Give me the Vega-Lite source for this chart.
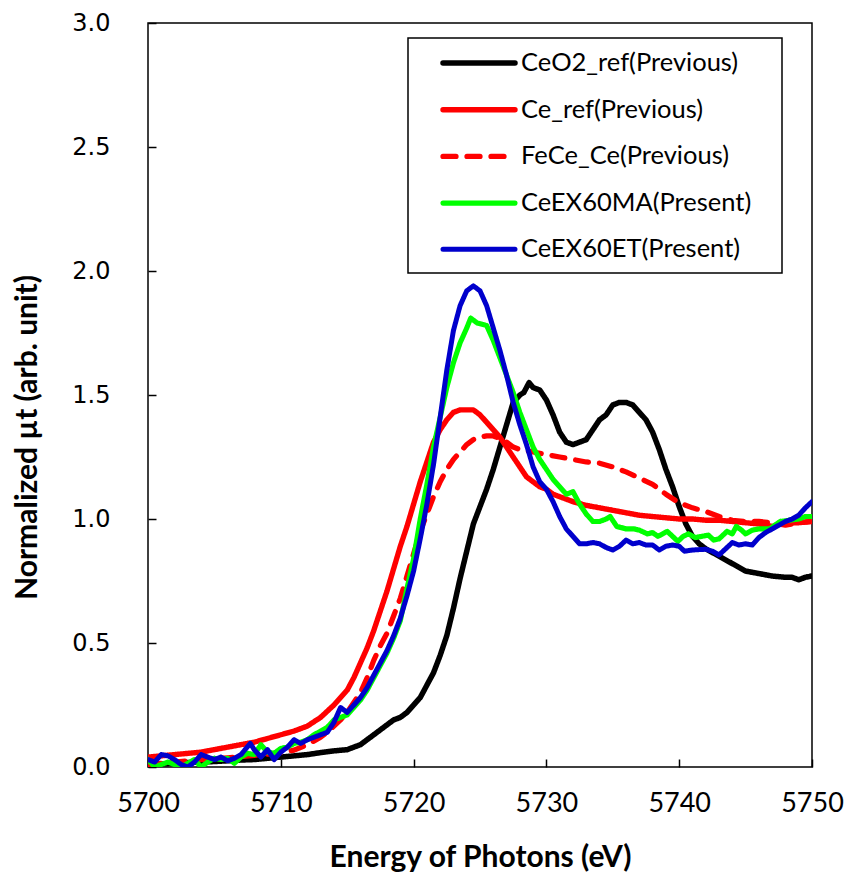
{
  "$schema": "https://vega.github.io/schema/vega-lite/v6.json",
  "autosize": "none",
  "width": 664,
  "height": 744,
  "padding": {"left": 148, "top": 23, "right": 36, "bottom": 109},
  "background": "white",
  "config": {
    "view": {"stroke": "black", "strokeWidth": 1.5},
    "axis": {"grid": false, "domain": false, "ticks": true, "tickColor": "black", "tickWidth": 1.5, "labelColor": "black", "titleColor": "black", "zindex": 1}
  },
  "datasets": {
    "d": [
      {"s":"CeO2_ref(Previous)","x":5700,"y":0.01},{"s":"CeO2_ref(Previous)","x":5701,"y":0.012},{"s":"CeO2_ref(Previous)","x":5702,"y":0.015},{"s":"CeO2_ref(Previous)","x":5703,"y":0.018},{"s":"CeO2_ref(Previous)","x":5704,"y":0.02},{"s":"CeO2_ref(Previous)","x":5705,"y":0.022},{"s":"CeO2_ref(Previous)","x":5706,"y":0.025},{"s":"CeO2_ref(Previous)","x":5707,"y":0.028},{"s":"CeO2_ref(Previous)","x":5708,"y":0.03},{"s":"CeO2_ref(Previous)","x":5709,"y":0.035},{"s":"CeO2_ref(Previous)","x":5710,"y":0.04},{"s":"CeO2_ref(Previous)","x":5711,"y":0.045},{"s":"CeO2_ref(Previous)","x":5712,"y":0.05},{"s":"CeO2_ref(Previous)","x":5713,"y":0.058},{"s":"CeO2_ref(Previous)","x":5714,"y":0.065},{"s":"CeO2_ref(Previous)","x":5715,"y":0.07},{"s":"CeO2_ref(Previous)","x":5716,"y":0.09},{"s":"CeO2_ref(Previous)","x":5717,"y":0.13},{"s":"CeO2_ref(Previous)","x":5718,"y":0.17},{"s":"CeO2_ref(Previous)","x":5718.5,"y":0.19},{"s":"CeO2_ref(Previous)","x":5719,"y":0.2},{"s":"CeO2_ref(Previous)","x":5719.5,"y":0.22},{"s":"CeO2_ref(Previous)","x":5720,"y":0.25},{"s":"CeO2_ref(Previous)","x":5720.5,"y":0.28},{"s":"CeO2_ref(Previous)","x":5721,"y":0.33},{"s":"CeO2_ref(Previous)","x":5721.5,"y":0.38},{"s":"CeO2_ref(Previous)","x":5722,"y":0.45},{"s":"CeO2_ref(Previous)","x":5722.5,"y":0.53},{"s":"CeO2_ref(Previous)","x":5723,"y":0.64},{"s":"CeO2_ref(Previous)","x":5723.5,"y":0.76},{"s":"CeO2_ref(Previous)","x":5724,"y":0.87},{"s":"CeO2_ref(Previous)","x":5724.5,"y":0.98},{"s":"CeO2_ref(Previous)","x":5725,"y":1.05},{"s":"CeO2_ref(Previous)","x":5725.5,"y":1.12},{"s":"CeO2_ref(Previous)","x":5726,"y":1.2},{"s":"CeO2_ref(Previous)","x":5726.5,"y":1.29},{"s":"CeO2_ref(Previous)","x":5727,"y":1.38},{"s":"CeO2_ref(Previous)","x":5727.5,"y":1.47},{"s":"CeO2_ref(Previous)","x":5728,"y":1.5},{"s":"CeO2_ref(Previous)","x":5728.3,"y":1.51},{"s":"CeO2_ref(Previous)","x":5728.7,"y":1.55},{"s":"CeO2_ref(Previous)","x":5729,"y":1.53},{"s":"CeO2_ref(Previous)","x":5729.5,"y":1.52},{"s":"CeO2_ref(Previous)","x":5730,"y":1.48},{"s":"CeO2_ref(Previous)","x":5730.5,"y":1.42},{"s":"CeO2_ref(Previous)","x":5731,"y":1.35},{"s":"CeO2_ref(Previous)","x":5731.5,"y":1.31},{"s":"CeO2_ref(Previous)","x":5732,"y":1.3},{"s":"CeO2_ref(Previous)","x":5732.5,"y":1.31},{"s":"CeO2_ref(Previous)","x":5733,"y":1.32},{"s":"CeO2_ref(Previous)","x":5733.5,"y":1.36},{"s":"CeO2_ref(Previous)","x":5734,"y":1.4},{"s":"CeO2_ref(Previous)","x":5734.5,"y":1.42},{"s":"CeO2_ref(Previous)","x":5735,"y":1.46},{"s":"CeO2_ref(Previous)","x":5735.5,"y":1.47},{"s":"CeO2_ref(Previous)","x":5736,"y":1.47},{"s":"CeO2_ref(Previous)","x":5736.5,"y":1.46},{"s":"CeO2_ref(Previous)","x":5737,"y":1.43},{"s":"CeO2_ref(Previous)","x":5737.5,"y":1.4},{"s":"CeO2_ref(Previous)","x":5738,"y":1.35},{"s":"CeO2_ref(Previous)","x":5738.5,"y":1.28},{"s":"CeO2_ref(Previous)","x":5739,"y":1.2},{"s":"CeO2_ref(Previous)","x":5739.5,"y":1.13},{"s":"CeO2_ref(Previous)","x":5740,"y":1.05},{"s":"CeO2_ref(Previous)","x":5740.5,"y":0.98},{"s":"CeO2_ref(Previous)","x":5741,"y":0.93},{"s":"CeO2_ref(Previous)","x":5741.5,"y":0.9},{"s":"CeO2_ref(Previous)","x":5742,"y":0.88},{"s":"CeO2_ref(Previous)","x":5743,"y":0.85},{"s":"CeO2_ref(Previous)","x":5744,"y":0.82},{"s":"CeO2_ref(Previous)","x":5745,"y":0.79},{"s":"CeO2_ref(Previous)","x":5746,"y":0.78},{"s":"CeO2_ref(Previous)","x":5747,"y":0.77},{"s":"CeO2_ref(Previous)","x":5748,"y":0.765},{"s":"CeO2_ref(Previous)","x":5748.5,"y":0.765},{"s":"CeO2_ref(Previous)","x":5749,"y":0.755},{"s":"CeO2_ref(Previous)","x":5749.5,"y":0.765},{"s":"CeO2_ref(Previous)","x":5750,"y":0.77},

      {"s":"Ce_ref(Previous)","x":5700,"y":0.04},{"s":"Ce_ref(Previous)","x":5701,"y":0.045},{"s":"Ce_ref(Previous)","x":5702,"y":0.05},{"s":"Ce_ref(Previous)","x":5703,"y":0.055},{"s":"Ce_ref(Previous)","x":5704,"y":0.06},{"s":"Ce_ref(Previous)","x":5705,"y":0.07},{"s":"Ce_ref(Previous)","x":5706,"y":0.08},{"s":"Ce_ref(Previous)","x":5707,"y":0.09},{"s":"Ce_ref(Previous)","x":5708,"y":0.1},{"s":"Ce_ref(Previous)","x":5709,"y":0.115},{"s":"Ce_ref(Previous)","x":5710,"y":0.13},{"s":"Ce_ref(Previous)","x":5711,"y":0.145},{"s":"Ce_ref(Previous)","x":5712,"y":0.165},{"s":"Ce_ref(Previous)","x":5713,"y":0.2},{"s":"Ce_ref(Previous)","x":5714,"y":0.25},{"s":"Ce_ref(Previous)","x":5715,"y":0.31},{"s":"Ce_ref(Previous)","x":5715.5,"y":0.36},{"s":"Ce_ref(Previous)","x":5716,"y":0.42},{"s":"Ce_ref(Previous)","x":5716.5,"y":0.48},{"s":"Ce_ref(Previous)","x":5717,"y":0.55},{"s":"Ce_ref(Previous)","x":5717.5,"y":0.63},{"s":"Ce_ref(Previous)","x":5718,"y":0.71},{"s":"Ce_ref(Previous)","x":5718.5,"y":0.8},{"s":"Ce_ref(Previous)","x":5719,"y":0.89},{"s":"Ce_ref(Previous)","x":5719.5,"y":0.97},{"s":"Ce_ref(Previous)","x":5720,"y":1.06},{"s":"Ce_ref(Previous)","x":5720.5,"y":1.15},{"s":"Ce_ref(Previous)","x":5721,"y":1.23},{"s":"Ce_ref(Previous)","x":5721.5,"y":1.31},{"s":"Ce_ref(Previous)","x":5722,"y":1.36},{"s":"Ce_ref(Previous)","x":5722.5,"y":1.4},{"s":"Ce_ref(Previous)","x":5723,"y":1.43},{"s":"Ce_ref(Previous)","x":5723.5,"y":1.44},{"s":"Ce_ref(Previous)","x":5724,"y":1.44},{"s":"Ce_ref(Previous)","x":5724.5,"y":1.44},{"s":"Ce_ref(Previous)","x":5725,"y":1.42},{"s":"Ce_ref(Previous)","x":5725.5,"y":1.39},{"s":"Ce_ref(Previous)","x":5726,"y":1.36},{"s":"Ce_ref(Previous)","x":5726.5,"y":1.33},{"s":"Ce_ref(Previous)","x":5727,"y":1.29},{"s":"Ce_ref(Previous)","x":5727.5,"y":1.25},{"s":"Ce_ref(Previous)","x":5728,"y":1.21},{"s":"Ce_ref(Previous)","x":5728.5,"y":1.17},{"s":"Ce_ref(Previous)","x":5729,"y":1.15},{"s":"Ce_ref(Previous)","x":5729.5,"y":1.13},{"s":"Ce_ref(Previous)","x":5730,"y":1.12},{"s":"Ce_ref(Previous)","x":5730.5,"y":1.1},{"s":"Ce_ref(Previous)","x":5731,"y":1.09},{"s":"Ce_ref(Previous)","x":5732,"y":1.07},{"s":"Ce_ref(Previous)","x":5733,"y":1.055},{"s":"Ce_ref(Previous)","x":5734,"y":1.045},{"s":"Ce_ref(Previous)","x":5735,"y":1.035},{"s":"Ce_ref(Previous)","x":5736,"y":1.025},{"s":"Ce_ref(Previous)","x":5737,"y":1.015},{"s":"Ce_ref(Previous)","x":5738,"y":1.01},{"s":"Ce_ref(Previous)","x":5739,"y":1.005},{"s":"Ce_ref(Previous)","x":5740,"y":1.0},{"s":"Ce_ref(Previous)","x":5741,"y":1.0},{"s":"Ce_ref(Previous)","x":5742,"y":0.995},{"s":"Ce_ref(Previous)","x":5743,"y":0.995},{"s":"Ce_ref(Previous)","x":5744,"y":0.99},{"s":"Ce_ref(Previous)","x":5745,"y":0.985},{"s":"Ce_ref(Previous)","x":5746,"y":0.98},{"s":"Ce_ref(Previous)","x":5747,"y":0.97},{"s":"Ce_ref(Previous)","x":5748,"y":0.985},{"s":"Ce_ref(Previous)","x":5749,"y":0.985},{"s":"Ce_ref(Previous)","x":5750,"y":0.99},

      {"s":"FeCe_Ce(Previous)","x":5700,"y":0.01},{"s":"FeCe_Ce(Previous)","x":5701,"y":0.015},{"s":"FeCe_Ce(Previous)","x":5702,"y":0.02},{"s":"FeCe_Ce(Previous)","x":5703,"y":0.025},{"s":"FeCe_Ce(Previous)","x":5704,"y":0.03},{"s":"FeCe_Ce(Previous)","x":5705,"y":0.033},{"s":"FeCe_Ce(Previous)","x":5706,"y":0.037},{"s":"FeCe_Ce(Previous)","x":5707,"y":0.042},{"s":"FeCe_Ce(Previous)","x":5708,"y":0.047},{"s":"FeCe_Ce(Previous)","x":5709,"y":0.052},{"s":"FeCe_Ce(Previous)","x":5710,"y":0.058},{"s":"FeCe_Ce(Previous)","x":5711,"y":0.068},{"s":"FeCe_Ce(Previous)","x":5712,"y":0.09},{"s":"FeCe_Ce(Previous)","x":5713,"y":0.12},{"s":"FeCe_Ce(Previous)","x":5713.5,"y":0.14},{"s":"FeCe_Ce(Previous)","x":5714,"y":0.165},{"s":"FeCe_Ce(Previous)","x":5714.5,"y":0.19},{"s":"FeCe_Ce(Previous)","x":5715,"y":0.22},{"s":"FeCe_Ce(Previous)","x":5715.5,"y":0.26},{"s":"FeCe_Ce(Previous)","x":5716,"y":0.3},{"s":"FeCe_Ce(Previous)","x":5716.5,"y":0.36},{"s":"FeCe_Ce(Previous)","x":5717,"y":0.43},{"s":"FeCe_Ce(Previous)","x":5717.5,"y":0.49},{"s":"FeCe_Ce(Previous)","x":5718,"y":0.54},{"s":"FeCe_Ce(Previous)","x":5718.5,"y":0.61},{"s":"FeCe_Ce(Previous)","x":5719,"y":0.68},{"s":"FeCe_Ce(Previous)","x":5719.5,"y":0.77},{"s":"FeCe_Ce(Previous)","x":5720,"y":0.86},{"s":"FeCe_Ce(Previous)","x":5720.5,"y":0.95},{"s":"FeCe_Ce(Previous)","x":5721,"y":1.02},{"s":"FeCe_Ce(Previous)","x":5721.5,"y":1.09},{"s":"FeCe_Ce(Previous)","x":5722,"y":1.15},{"s":"FeCe_Ce(Previous)","x":5722.5,"y":1.2},{"s":"FeCe_Ce(Previous)","x":5723,"y":1.24},{"s":"FeCe_Ce(Previous)","x":5723.5,"y":1.27},{"s":"FeCe_Ce(Previous)","x":5724,"y":1.3},{"s":"FeCe_Ce(Previous)","x":5724.5,"y":1.32},{"s":"FeCe_Ce(Previous)","x":5725,"y":1.33},{"s":"FeCe_Ce(Previous)","x":5725.5,"y":1.335},{"s":"FeCe_Ce(Previous)","x":5726,"y":1.335},{"s":"FeCe_Ce(Previous)","x":5726.5,"y":1.325},{"s":"FeCe_Ce(Previous)","x":5727,"y":1.31},{"s":"FeCe_Ce(Previous)","x":5727.5,"y":1.29},{"s":"FeCe_Ce(Previous)","x":5728,"y":1.28},{"s":"FeCe_Ce(Previous)","x":5729,"y":1.27},{"s":"FeCe_Ce(Previous)","x":5730,"y":1.26},{"s":"FeCe_Ce(Previous)","x":5731,"y":1.25},{"s":"FeCe_Ce(Previous)","x":5732,"y":1.24},{"s":"FeCe_Ce(Previous)","x":5733,"y":1.23},{"s":"FeCe_Ce(Previous)","x":5734,"y":1.225},{"s":"FeCe_Ce(Previous)","x":5735,"y":1.21},{"s":"FeCe_Ce(Previous)","x":5736,"y":1.19},{"s":"FeCe_Ce(Previous)","x":5737,"y":1.165},{"s":"FeCe_Ce(Previous)","x":5738,"y":1.14},{"s":"FeCe_Ce(Previous)","x":5739,"y":1.1},{"s":"FeCe_Ce(Previous)","x":5740,"y":1.065},{"s":"FeCe_Ce(Previous)","x":5741,"y":1.045},{"s":"FeCe_Ce(Previous)","x":5742,"y":1.03},{"s":"FeCe_Ce(Previous)","x":5743,"y":1.01},{"s":"FeCe_Ce(Previous)","x":5744,"y":0.995},{"s":"FeCe_Ce(Previous)","x":5745,"y":0.99},{"s":"FeCe_Ce(Previous)","x":5746,"y":0.99},{"s":"FeCe_Ce(Previous)","x":5747,"y":0.985},{"s":"FeCe_Ce(Previous)","x":5748,"y":0.975},{"s":"FeCe_Ce(Previous)","x":5749,"y":0.985},{"s":"FeCe_Ce(Previous)","x":5750,"y":0.99},

      {"s":"CeEX60MA(Present)","x":5700,"y":0.03},{"s":"CeEX60MA(Present)","x":5700.5,"y":0.0},{"s":"CeEX60MA(Present)","x":5701,"y":0.01},{"s":"CeEX60MA(Present)","x":5701.5,"y":0.02},{"s":"CeEX60MA(Present)","x":5702,"y":0.01},{"s":"CeEX60MA(Present)","x":5702.5,"y":0.0},{"s":"CeEX60MA(Present)","x":5703,"y":0.015},{"s":"CeEX60MA(Present)","x":5703.5,"y":0.03},{"s":"CeEX60MA(Present)","x":5704,"y":0.0},{"s":"CeEX60MA(Present)","x":5704.5,"y":0.02},{"s":"CeEX60MA(Present)","x":5705,"y":0.035},{"s":"CeEX60MA(Present)","x":5705.5,"y":0.03},{"s":"CeEX60MA(Present)","x":5706,"y":0.035},{"s":"CeEX60MA(Present)","x":5706.5,"y":0.015},{"s":"CeEX60MA(Present)","x":5707,"y":0.04},{"s":"CeEX60MA(Present)","x":5707.5,"y":0.055},{"s":"CeEX60MA(Present)","x":5708,"y":0.05},{"s":"CeEX60MA(Present)","x":5708.5,"y":0.09},{"s":"CeEX60MA(Present)","x":5709,"y":0.06},{"s":"CeEX60MA(Present)","x":5709.5,"y":0.055},{"s":"CeEX60MA(Present)","x":5710,"y":0.075},{"s":"CeEX60MA(Present)","x":5710.5,"y":0.08},{"s":"CeEX60MA(Present)","x":5711,"y":0.095},{"s":"CeEX60MA(Present)","x":5711.5,"y":0.1},{"s":"CeEX60MA(Present)","x":5712,"y":0.11},{"s":"CeEX60MA(Present)","x":5712.5,"y":0.13},{"s":"CeEX60MA(Present)","x":5713,"y":0.145},{"s":"CeEX60MA(Present)","x":5713.5,"y":0.16},{"s":"CeEX60MA(Present)","x":5714,"y":0.19},{"s":"CeEX60MA(Present)","x":5714.5,"y":0.2},{"s":"CeEX60MA(Present)","x":5715,"y":0.21},{"s":"CeEX60MA(Present)","x":5715.5,"y":0.24},{"s":"CeEX60MA(Present)","x":5716,"y":0.27},{"s":"CeEX60MA(Present)","x":5716.5,"y":0.31},{"s":"CeEX60MA(Present)","x":5717,"y":0.36},{"s":"CeEX60MA(Present)","x":5717.5,"y":0.41},{"s":"CeEX60MA(Present)","x":5718,"y":0.46},{"s":"CeEX60MA(Present)","x":5718.5,"y":0.52},{"s":"CeEX60MA(Present)","x":5719,"y":0.59},{"s":"CeEX60MA(Present)","x":5719.5,"y":0.72},{"s":"CeEX60MA(Present)","x":5720,"y":0.84},{"s":"CeEX60MA(Present)","x":5720.5,"y":1.0},{"s":"CeEX60MA(Present)","x":5721,"y":1.14},{"s":"CeEX60MA(Present)","x":5721.5,"y":1.29},{"s":"CeEX60MA(Present)","x":5722,"y":1.41},{"s":"CeEX60MA(Present)","x":5722.5,"y":1.53},{"s":"CeEX60MA(Present)","x":5723,"y":1.63},{"s":"CeEX60MA(Present)","x":5723.5,"y":1.71},{"s":"CeEX60MA(Present)","x":5724,"y":1.77},{"s":"CeEX60MA(Present)","x":5724.3,"y":1.81},{"s":"CeEX60MA(Present)","x":5724.8,"y":1.79},{"s":"CeEX60MA(Present)","x":5725.5,"y":1.78},{"s":"CeEX60MA(Present)","x":5726,"y":1.72},{"s":"CeEX60MA(Present)","x":5726.5,"y":1.65},{"s":"CeEX60MA(Present)","x":5727,"y":1.58},{"s":"CeEX60MA(Present)","x":5727.5,"y":1.51},{"s":"CeEX60MA(Present)","x":5728,"y":1.43},{"s":"CeEX60MA(Present)","x":5728.5,"y":1.36},{"s":"CeEX60MA(Present)","x":5729,"y":1.29},{"s":"CeEX60MA(Present)","x":5729.5,"y":1.24},{"s":"CeEX60MA(Present)","x":5730,"y":1.2},{"s":"CeEX60MA(Present)","x":5730.5,"y":1.16},{"s":"CeEX60MA(Present)","x":5731,"y":1.13},{"s":"CeEX60MA(Present)","x":5731.5,"y":1.1},{"s":"CeEX60MA(Present)","x":5732,"y":1.11},{"s":"CeEX60MA(Present)","x":5732.5,"y":1.06},{"s":"CeEX60MA(Present)","x":5733,"y":1.02},{"s":"CeEX60MA(Present)","x":5733.5,"y":0.99},{"s":"CeEX60MA(Present)","x":5734,"y":0.99},{"s":"CeEX60MA(Present)","x":5734.5,"y":1.0},{"s":"CeEX60MA(Present)","x":5734.8,"y":1.01},{"s":"CeEX60MA(Present)","x":5735.3,"y":0.97},{"s":"CeEX60MA(Present)","x":5736,"y":0.96},{"s":"CeEX60MA(Present)","x":5736.6,"y":0.96},{"s":"CeEX60MA(Present)","x":5737,"y":0.955},{"s":"CeEX60MA(Present)","x":5737.6,"y":0.94},{"s":"CeEX60MA(Present)","x":5738,"y":0.945},{"s":"CeEX60MA(Present)","x":5738.4,"y":0.93},{"s":"CeEX60MA(Present)","x":5739.1,"y":0.95},{"s":"CeEX60MA(Present)","x":5739.5,"y":0.93},{"s":"CeEX60MA(Present)","x":5739.9,"y":0.91},{"s":"CeEX60MA(Present)","x":5740.3,"y":0.93},{"s":"CeEX60MA(Present)","x":5740.7,"y":0.94},{"s":"CeEX60MA(Present)","x":5741.2,"y":0.925},{"s":"CeEX60MA(Present)","x":5741.7,"y":0.93},{"s":"CeEX60MA(Present)","x":5742.2,"y":0.935},{"s":"CeEX60MA(Present)","x":5742.6,"y":0.915},{"s":"CeEX60MA(Present)","x":5743,"y":0.92},{"s":"CeEX60MA(Present)","x":5743.6,"y":0.95},{"s":"CeEX60MA(Present)","x":5744,"y":0.94},{"s":"CeEX60MA(Present)","x":5744.3,"y":0.97},{"s":"CeEX60MA(Present)","x":5744.7,"y":0.955},{"s":"CeEX60MA(Present)","x":5745,"y":0.94},{"s":"CeEX60MA(Present)","x":5745.5,"y":0.955},{"s":"CeEX60MA(Present)","x":5746,"y":0.96},{"s":"CeEX60MA(Present)","x":5746.8,"y":0.96},{"s":"CeEX60MA(Present)","x":5747.6,"y":0.99},{"s":"CeEX60MA(Present)","x":5748.3,"y":0.995},{"s":"CeEX60MA(Present)","x":5749,"y":1.0},{"s":"CeEX60MA(Present)","x":5749.5,"y":1.01},{"s":"CeEX60MA(Present)","x":5750,"y":1.01},

      {"s":"CeEX60ET(Present)","x":5700,"y":0.03},{"s":"CeEX60ET(Present)","x":5700.5,"y":0.02},{"s":"CeEX60ET(Present)","x":5701,"y":0.05},{"s":"CeEX60ET(Present)","x":5701.5,"y":0.045},{"s":"CeEX60ET(Present)","x":5702,"y":0.03},{"s":"CeEX60ET(Present)","x":5702.5,"y":0.01},{"s":"CeEX60ET(Present)","x":5703,"y":0.0},{"s":"CeEX60ET(Present)","x":5703.5,"y":0.02},{"s":"CeEX60ET(Present)","x":5704,"y":0.05},{"s":"CeEX60ET(Present)","x":5704.5,"y":0.04},{"s":"CeEX60ET(Present)","x":5705,"y":0.03},{"s":"CeEX60ET(Present)","x":5705.5,"y":0.04},{"s":"CeEX60ET(Present)","x":5706,"y":0.025},{"s":"CeEX60ET(Present)","x":5706.5,"y":0.035},{"s":"CeEX60ET(Present)","x":5707,"y":0.05},{"s":"CeEX60ET(Present)","x":5707.7,"y":0.095},{"s":"CeEX60ET(Present)","x":5708,"y":0.07},{"s":"CeEX60ET(Present)","x":5708.5,"y":0.04},{"s":"CeEX60ET(Present)","x":5709,"y":0.07},{"s":"CeEX60ET(Present)","x":5709.5,"y":0.03},{"s":"CeEX60ET(Present)","x":5710,"y":0.06},{"s":"CeEX60ET(Present)","x":5710.5,"y":0.08},{"s":"CeEX60ET(Present)","x":5711,"y":0.11},{"s":"CeEX60ET(Present)","x":5711.5,"y":0.095},{"s":"CeEX60ET(Present)","x":5712,"y":0.11},{"s":"CeEX60ET(Present)","x":5712.5,"y":0.12},{"s":"CeEX60ET(Present)","x":5713,"y":0.13},{"s":"CeEX60ET(Present)","x":5713.5,"y":0.14},{"s":"CeEX60ET(Present)","x":5714,"y":0.18},{"s":"CeEX60ET(Present)","x":5714.5,"y":0.24},{"s":"CeEX60ET(Present)","x":5715,"y":0.22},{"s":"CeEX60ET(Present)","x":5715.5,"y":0.25},{"s":"CeEX60ET(Present)","x":5716,"y":0.28},{"s":"CeEX60ET(Present)","x":5716.5,"y":0.32},{"s":"CeEX60ET(Present)","x":5717,"y":0.37},{"s":"CeEX60ET(Present)","x":5717.5,"y":0.42},{"s":"CeEX60ET(Present)","x":5718,"y":0.47},{"s":"CeEX60ET(Present)","x":5718.5,"y":0.53},{"s":"CeEX60ET(Present)","x":5719,"y":0.6},{"s":"CeEX60ET(Present)","x":5719.5,"y":0.69},{"s":"CeEX60ET(Present)","x":5720,"y":0.79},{"s":"CeEX60ET(Present)","x":5720.5,"y":0.92},{"s":"CeEX60ET(Present)","x":5721,"y":1.06},{"s":"CeEX60ET(Present)","x":5721.5,"y":1.22},{"s":"CeEX60ET(Present)","x":5722,"y":1.41},{"s":"CeEX60ET(Present)","x":5722.5,"y":1.6},{"s":"CeEX60ET(Present)","x":5723,"y":1.76},{"s":"CeEX60ET(Present)","x":5723.5,"y":1.86},{"s":"CeEX60ET(Present)","x":5724,"y":1.92},{"s":"CeEX60ET(Present)","x":5724.5,"y":1.94},{"s":"CeEX60ET(Present)","x":5725,"y":1.92},{"s":"CeEX60ET(Present)","x":5725.5,"y":1.86},{"s":"CeEX60ET(Present)","x":5726,"y":1.77},{"s":"CeEX60ET(Present)","x":5726.5,"y":1.68},{"s":"CeEX60ET(Present)","x":5727,"y":1.58},{"s":"CeEX60ET(Present)","x":5727.5,"y":1.47},{"s":"CeEX60ET(Present)","x":5728,"y":1.38},{"s":"CeEX60ET(Present)","x":5728.5,"y":1.3},{"s":"CeEX60ET(Present)","x":5729,"y":1.21},{"s":"CeEX60ET(Present)","x":5729.5,"y":1.15},{"s":"CeEX60ET(Present)","x":5730,"y":1.12},{"s":"CeEX60ET(Present)","x":5730.5,"y":1.07},{"s":"CeEX60ET(Present)","x":5731,"y":1.01},{"s":"CeEX60ET(Present)","x":5731.5,"y":0.96},{"s":"CeEX60ET(Present)","x":5732,"y":0.93},{"s":"CeEX60ET(Present)","x":5732.5,"y":0.9},{"s":"CeEX60ET(Present)","x":5733,"y":0.9},{"s":"CeEX60ET(Present)","x":5733.5,"y":0.905},{"s":"CeEX60ET(Present)","x":5734,"y":0.9},{"s":"CeEX60ET(Present)","x":5734.5,"y":0.885},{"s":"CeEX60ET(Present)","x":5735,"y":0.875},{"s":"CeEX60ET(Present)","x":5735.5,"y":0.89},{"s":"CeEX60ET(Present)","x":5736,"y":0.915},{"s":"CeEX60ET(Present)","x":5736.5,"y":0.9},{"s":"CeEX60ET(Present)","x":5737,"y":0.905},{"s":"CeEX60ET(Present)","x":5737.5,"y":0.895},{"s":"CeEX60ET(Present)","x":5738,"y":0.895},{"s":"CeEX60ET(Present)","x":5738.5,"y":0.875},{"s":"CeEX60ET(Present)","x":5739,"y":0.89},{"s":"CeEX60ET(Present)","x":5739.5,"y":0.895},{"s":"CeEX60ET(Present)","x":5740,"y":0.89},{"s":"CeEX60ET(Present)","x":5740.4,"y":0.87},{"s":"CeEX60ET(Present)","x":5741,"y":0.875},{"s":"CeEX60ET(Present)","x":5742,"y":0.878},{"s":"CeEX60ET(Present)","x":5742.5,"y":0.87},{"s":"CeEX60ET(Present)","x":5743,"y":0.855},{"s":"CeEX60ET(Present)","x":5743.5,"y":0.88},{"s":"CeEX60ET(Present)","x":5744,"y":0.905},{"s":"CeEX60ET(Present)","x":5744.5,"y":0.895},{"s":"CeEX60ET(Present)","x":5745,"y":0.9},{"s":"CeEX60ET(Present)","x":5745.5,"y":0.895},{"s":"CeEX60ET(Present)","x":5746,"y":0.925},{"s":"CeEX60ET(Present)","x":5746.5,"y":0.945},{"s":"CeEX60ET(Present)","x":5747,"y":0.96},{"s":"CeEX60ET(Present)","x":5747.5,"y":0.975},{"s":"CeEX60ET(Present)","x":5748,"y":0.99},{"s":"CeEX60ET(Present)","x":5748.5,"y":1.0},{"s":"CeEX60ET(Present)","x":5749,"y":1.015},{"s":"CeEX60ET(Present)","x":5749.5,"y":1.045},{"s":"CeEX60ET(Present)","x":5750,"y":1.07}
    ]
  },
  "data": {"name": "d"},
  "mark": {"type": "line", "strokeCap": "round", "strokeJoin": "round", "clip": true},
  "encoding": {
    "x": {
      "field": "x", "type": "quantitative",
      "scale": {"domain": [5700, 5750], "nice": false, "zero": false},
      "axis": {
        "title": "Energy of Photons (eV)",
        "values": [5700, 5710, 5720, 5730, 5740, 5750],
        "format": "d",
        "offset": -8,
        "tickSize": 8,
        "labelPadding": 23,
        "labelFont": "Lato", "labelFontSize": 27,
        "labelFlush": false, "labelOverlap": false,
        "titleFont": "Lato", "titleFontSize": 30, "titleFontWeight": "bold",
        "titleX": 332, "titleY": 107, "titleBaseline": "alphabetic", "titleAlign": "center"
      }
    },
    "y": {
      "field": "y", "type": "quantitative",
      "scale": {"domain": [0, 3], "nice": false, "zero": true},
      "axis": {
        "title": "Normalized µt (arb. unit)",
        "values": [0, 0.5, 1, 1.5, 2, 2.5, 3],
        "format": ".1f",
        "offset": -8,
        "tickSize": 8,
        "labelPadding": 38,
        "labelFont": "DejaVu Sans", "labelFontSize": 24,
        "labelFlush": false, "labelOverlap": false,
        "titleFont": "Lato", "titleFontSize": 30, "titleFontWeight": "bold",
        "titleX": -129, "titleY": 414, "titleBaseline": "middle", "titleAlign": "center", "titleAngle": -90
      }
    },
    "color": {
      "field": "s", "type": "nominal",
      "scale": {
        "domain": ["CeO2_ref(Previous)", "Ce_ref(Previous)", "FeCe_Ce(Previous)", "CeEX60MA(Present)", "CeEX60ET(Present)"],
        "range": ["#000000", "#FF0000", "#FF0000", "#00FF00", "#0000CC"]
      },
      "legend": {
        "title": "\u00a0", "titleOrient": "right", "titlePadding": 21, "titleFontSize": 12,
        "orient": "none", "legendX": 260, "legendY": 15,
        "direction": "vertical",
        "strokeColor": "black", "fillColor": "white", "padding": 10,
        "rowPadding": 17.7,
        "symbolType": "M-3,0H3", "symbolSize": 576, "symbolOffset": 46, "labelOffset": 27,
        "labelFont": "Lato", "labelFontSize": 25.5, "labelColor": "black", "labelLimit": 400,
        "encode": {"legend": {"update": {"strokeWidth": {"value": 1.5}}}, "symbols": {"update": {"strokeCap": {"value": "round"}}}}
      }
    },
    "strokeDash": {
      "field": "s", "type": "nominal",
      "scale": {
        "domain": ["CeO2_ref(Previous)", "Ce_ref(Previous)", "FeCe_Ce(Previous)", "CeEX60MA(Present)", "CeEX60ET(Present)"],
        "range": [[1, 0], [1, 0], [13, 11], [1, 0], [1, 0]]
      }
    },
    "strokeWidth": {
      "field": "s", "type": "nominal",
      "scale": {
        "domain": ["CeO2_ref(Previous)", "Ce_ref(Previous)", "FeCe_Ce(Previous)", "CeEX60MA(Present)", "CeEX60ET(Present)"],
        "range": [5.5, 5, 5, 3, 3]
      }
    }
  }
}
